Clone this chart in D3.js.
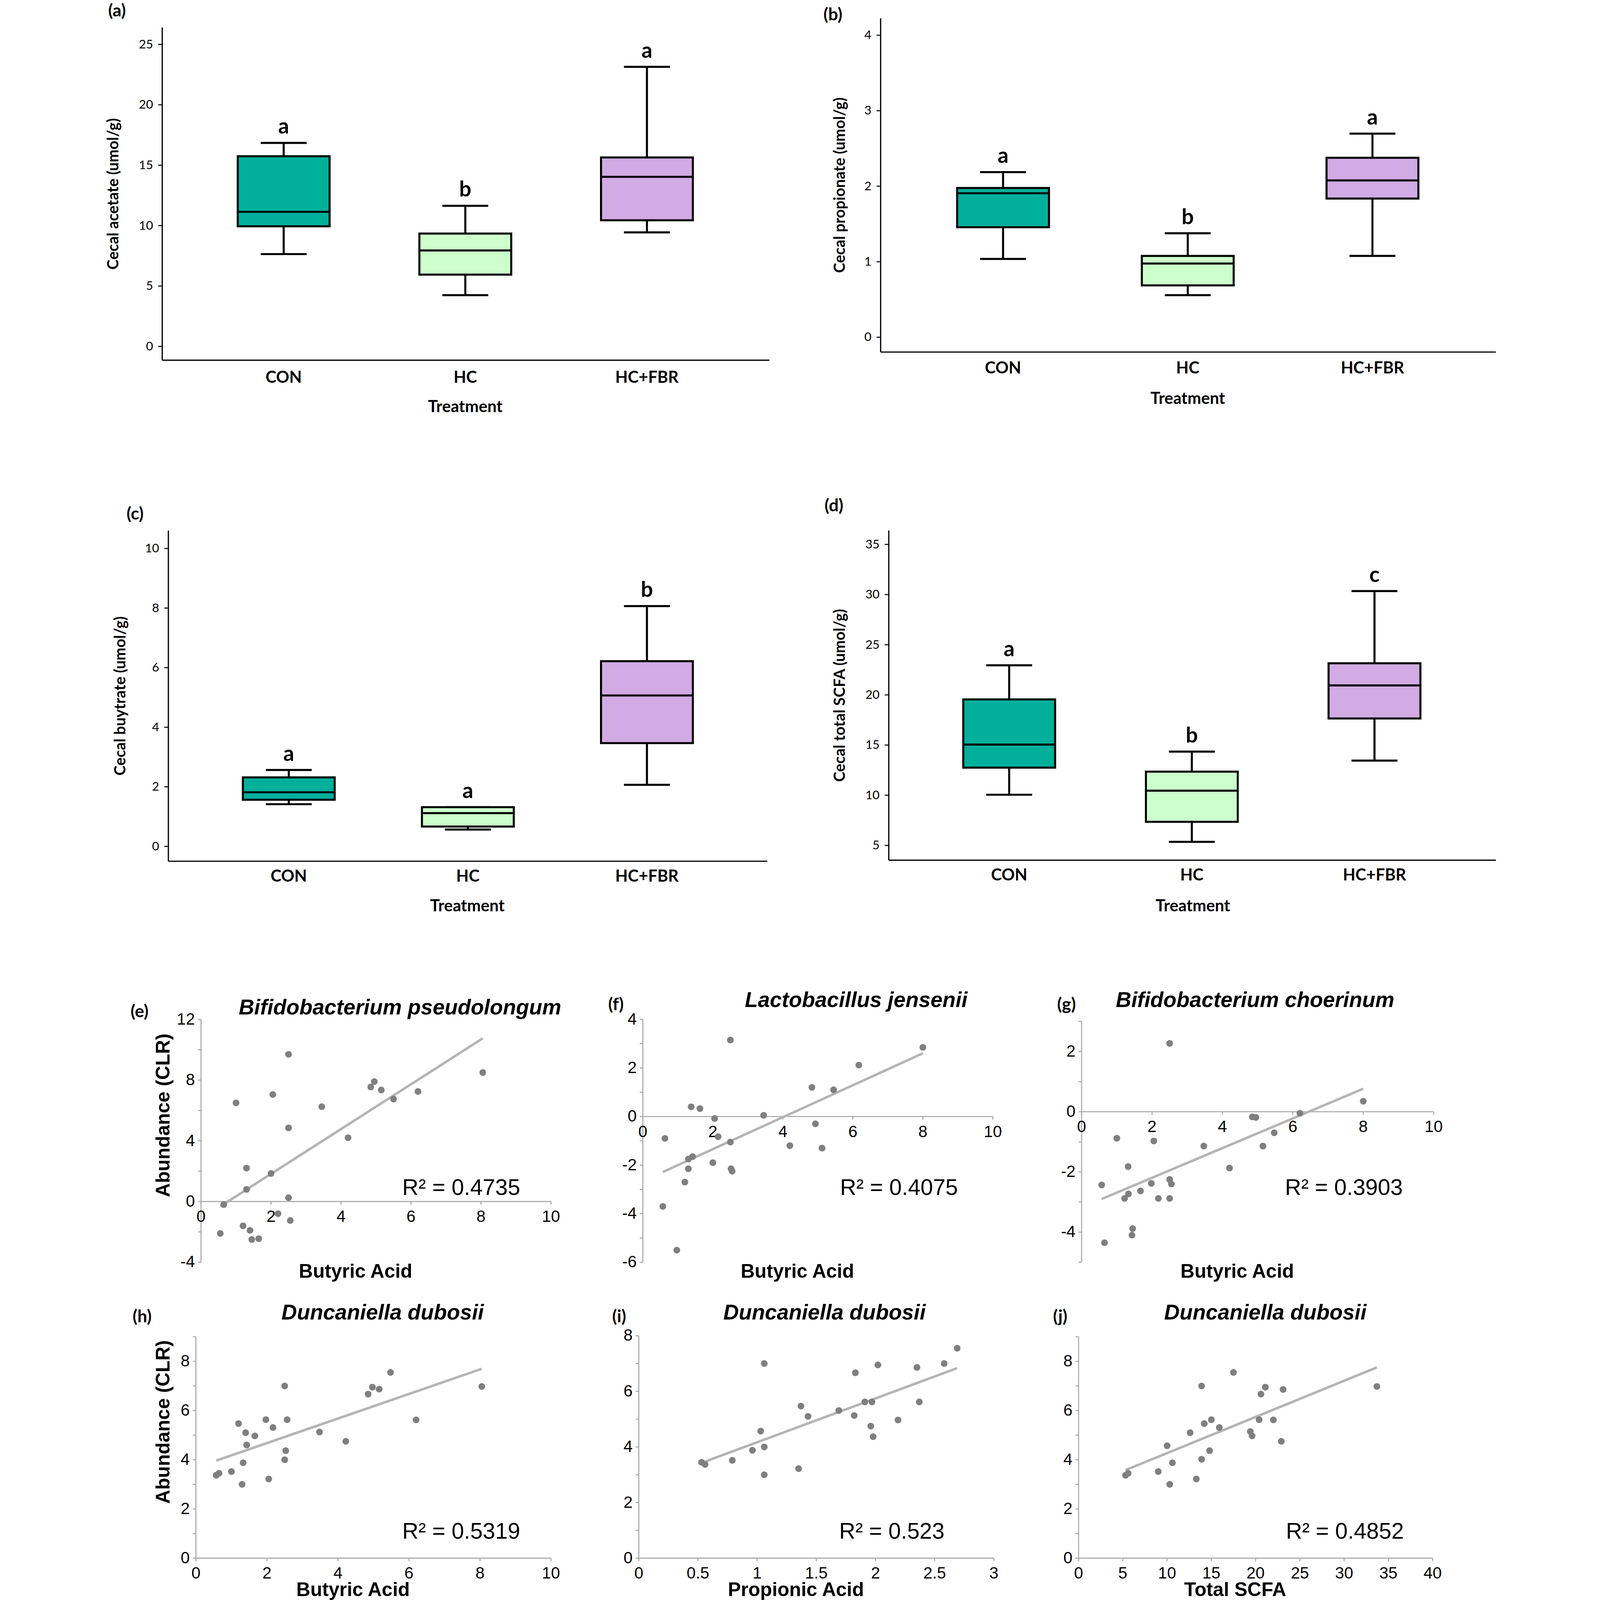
<!DOCTYPE html>
<html>
<head>
<meta charset="utf-8">
<script src="https://cdn.jsdelivr.net/npm/d3@7"></script>
<style>
  html, body { margin: 0; padding: 0; background: #fff; overflow: hidden; }
  svg { display: block; }
</style>
</head>
<body>
<div id="chart"></div>
<script>
// box plot data: [min, q1, median, q3, max] per group
var groups = ["CON", "HC", "HC+FBR"];
var groupColors = ["#00b09b", "#ccffcc", "#d2aae4"];
var acetate    = [[7.6, 9.9, 11.1, 15.7, 16.8], [4.2, 5.9, 7.9, 9.3, 11.6], [9.4, 10.4, 14.0, 15.6, 23.1]];
var propionate = [[1.03, 1.45, 1.9, 1.97, 2.18], [0.55, 0.68, 0.97, 1.07, 1.37], [1.07, 1.83, 2.07, 2.37, 2.69]];
var butyrate   = [[1.4, 1.55, 1.8, 2.3, 2.55], [0.55, 0.65, 1.1, 1.3, 1.3], [2.05, 3.45, 5.05, 6.2, 8.05]];
var totalScfa  = [[10.0, 12.7, 15.0, 19.5, 22.9], [5.3, 7.3, 10.4, 12.3, 14.3], [13.4, 17.6, 20.9, 23.1, 30.3]];
var letters = [["a", "b", "a"], ["a", "b", "a"], ["a", "a", "b"], ["a", "b", "c"]];
var acetateTicks = [0, 5, 10, 15, 20, 25];
var propionateTicks = [0, 1, 2, 3, 4];
var butyrateTicks = [0, 2, 4, 6, 8, 10];
var scfaTicks = [5, 10, 15, 20, 25, 30, 35];

// scatter data
var eX = [0.65, 0.55, 1.0, 1.3, 1.3, 1.2, 1.4, 1.45, 1.65, 2.0, 2.05, 2.2, 2.5, 2.5, 2.5, 2.55, 3.45, 4.2, 4.85, 4.95, 5.15, 5.5, 6.2, 8.05];
var eY = [-0.2, -2.1, 6.5, 2.2, 0.8, -1.6, -1.9, -2.5, -2.45, 1.85, 7.05, -0.8, 9.7, 4.85, 0.25, -1.25, 6.25, 4.2, 7.55, 7.9, 7.35, 6.75, 7.25, 8.5];
var fX = [0.63, 0.57, 0.97, 1.2, 1.3, 1.3, 1.42, 1.38, 1.63, 2.0, 2.05, 2.15, 2.5, 2.5, 2.52, 2.55, 3.45, 4.2, 4.83, 4.93, 5.12, 5.45, 6.17, 8.0];
var fY = [-0.9, -3.7, -5.5, -2.7, -1.75, -2.15, -1.65, 0.4, 0.33, -1.9, -0.08, -0.83, 3.15, -1.05, -2.15, -2.25, 0.05, -1.2, 1.2, -0.3, -1.3, 1.1, 2.12, 2.85];
var gX = [0.57, 0.65, 1.0, 1.22, 1.33, 1.32, 1.43, 1.45, 1.67, 1.98, 2.05, 2.18, 2.5, 2.5, 2.55, 2.5, 3.47, 4.2, 4.85, 4.95, 5.15, 5.47, 6.2, 8.0];
var gY = [-2.43, -4.35, -0.88, -2.88, -2.73, -1.82, -4.1, -3.88, -2.63, -2.38, -0.97, -2.88, 2.27, -2.25, -2.4, -2.88, -1.14, -1.87, -0.17, -0.19, -1.14, -0.7, -0.05, 0.35];
var hX = [0.57, 0.65, 1.0, 1.2, 1.3, 1.33, 1.4, 1.43, 1.66, 1.97, 2.05, 2.17, 2.5, 2.53, 2.5, 2.57, 3.48, 4.22, 4.85, 4.97, 5.16, 5.48, 6.2, 8.05];
var hY = [3.37, 3.45, 3.52, 5.47, 3.0, 3.88, 5.1, 4.6, 4.97, 5.63, 3.22, 5.31, 7.0, 4.37, 4.0, 5.63, 5.13, 4.75, 6.67, 6.95, 6.87, 7.55, 5.62, 6.98];
var iX = [0.53, 0.56, 0.79, 0.96, 1.03, 1.06, 1.06, 1.06, 1.35, 1.37, 1.43, 1.69, 1.82, 1.83, 1.91, 1.96, 1.97, 1.98, 2.02, 2.19, 2.35, 2.37, 2.58, 2.69];
var iY = [3.45, 3.37, 3.52, 3.88, 4.57, 4.0, 7.0, 3.0, 3.22, 5.47, 5.1, 5.31, 5.13, 6.67, 5.62, 4.75, 5.62, 4.37, 6.95, 4.97, 6.86, 5.62, 7.0, 7.55];
var jX = [5.3, 5.6, 9.0, 10.0, 10.3, 10.6, 12.6, 13.3, 13.9, 13.9, 14.2, 14.8, 15.0, 15.9, 17.5, 19.4, 19.6, 20.4, 20.6, 21.1, 22.0, 22.9, 23.1, 33.7];
var jY = [3.37, 3.45, 3.52, 4.57, 3.0, 3.88, 5.1, 3.22, 7.0, 4.02, 5.47, 4.37, 5.63, 5.31, 7.55, 5.15, 4.97, 5.63, 6.67, 6.95, 5.62, 4.75, 6.86, 6.98];
// fitted lines [slope, intercept] and printed R²
var trends = [[1.476, -1.13], [0.658, -2.66], [0.493, -3.18], [0.499, 3.68], [1.578, 2.59], [0.147, 2.80]];
var rSquared = ["0.4735", "0.4075", "0.3903", "0.5319", "0.523", "0.4852"];
var titles = ["Bifidobacterium pseudolongum", "Lactobacillus jensenii", "Bifidobacterium choerinum",
              "Duncaniella dubosii", "Duncaniella dubosii", "Duncaniella dubosii"];
var xLabels = ["Butyric Acid", "Butyric Acid", "Butyric Acid", "Butyric Acid", "Propionic Acid", "Total SCFA"];

// drawing is laid out on a 1364 x 1568 grid and scaled to the window
var svg = d3.select("#chart").append("svg")
  .attr("viewBox", "0 0 1364 1568")
  .attr("preserveAspectRatio", "xMidYMid meet")
  .style("width", "100vw").style("height", "100vh");
var root = svg.append("g");
var boxFont = "Lato, 'Open Sans', sans-serif";
var arial = "'Liberation Sans Narrow', 'Liberation Sans', Arial, sans-serif";

// ---------- box plots ----------
var boxPanels = [
  {tag: "(a)", tx: 4, ty: 16, data: acetate, ticks: acetateTicks, dom: [0, 25], rng: [339, 43], x0: 57, x1: 652, yTop: 27, yBot: 353,
   cx: [176, 354, 532], ylab: "Cecal acetate (umol/g)", ylx: 14, catY: 375, treatY: 404},
  {tag: "(b)", tx: 705, ty: 20, data: propionate, ticks: propionateTicks, dom: [0, 4], rng: [330, 34], x0: 761, x1: 1364, yTop: 18, yBot: 345,
   cx: [881, 1062, 1243], ylab: "Cecal propionate (umol/g)", ylx: 726, catY: 366, treatY: 396},
  {tag: "(c)", tx: 22, ty: 509, data: butyrate, ticks: butyrateTicks, dom: [0, 10], rng: [829, 537], x0: 63, x1: 650, yTop: 520, yBot: 844,
   cx: [181, 356, 532], ylab: "Cecal buytrate (umol/g)", ylx: 21, catY: 864, treatY: 893},
  {tag: "(d)", tx: 706, ty: 501, data: totalScfa, ticks: scfaTicks, dom: [5, 35], rng: [828, 533], x0: 769, x1: 1364, yTop: 520, yBot: 843,
   cx: [887, 1067, 1245], ylab: "Cecal total SCFA (umol/g)", ylx: 726, catY: 863, treatY: 893}
];

boxPanels.forEach(function(p, pi) {
  var g = root.append("g");
  var y = d3.scaleLinear().domain(p.dom).range(p.rng);
  var x = d3.scalePoint().domain(groups).range([p.cx[0], p.cx[2]]);
  g.append("text").attr("x", p.tx).attr("y", p.ty).text(p.tag)
    .style("font-family", boxFont).style("font-weight", "bold").style("font-size", "17px");
  g.append("line").attr("x1", p.x0).attr("x2", p.x0).attr("y1", p.yTop).attr("y2", p.yBot).attr("stroke", "#000").attr("stroke-width", 1.2);
  g.append("line").attr("x1", p.x0).attr("x2", p.x1).attr("y1", p.yBot).attr("y2", p.yBot).attr("stroke", "#000").attr("stroke-width", 1.2);
  var ax = g.append("g").attr("transform", "translate(" + p.x0 + ",0)")
    .call(d3.axisLeft(y).tickValues(p.ticks).tickSize(4).tickFormat(d3.format("d")));
  ax.select(".domain").remove();
  ax.selectAll("text").style("font-family", boxFont).style("font-size", "12px").attr("x", -9);
  g.append("text").attr("transform", "translate(" + p.ylx + "," + ((p.yTop + p.yBot) / 2) + ") rotate(-90)")
    .attr("text-anchor", "middle").text(p.ylab)
    .style("font-family", boxFont).style("font-weight", "bold").style("font-size", "15px");
  groups.forEach(function(name, gi) {
    var d = p.data[gi], cx = x(name), w = 90;
    g.append("line").attr("x1", cx).attr("x2", cx).attr("y1", y(d[0])).attr("y2", y(d[1])).attr("stroke", "#000").attr("stroke-width", 2);
    g.append("line").attr("x1", cx).attr("x2", cx).attr("y1", y(d[3])).attr("y2", y(d[4])).attr("stroke", "#000").attr("stroke-width", 2);
    g.append("line").attr("x1", cx - w / 4).attr("x2", cx + w / 4).attr("y1", y(d[0])).attr("y2", y(d[0])).attr("stroke", "#000").attr("stroke-width", 2);
    g.append("line").attr("x1", cx - w / 4).attr("x2", cx + w / 4).attr("y1", y(d[4])).attr("y2", y(d[4])).attr("stroke", "#000").attr("stroke-width", 2);
    g.append("rect").attr("x", cx - w / 2).attr("width", w).attr("y", y(d[3])).attr("height", y(d[1]) - y(d[3]))
      .attr("fill", groupColors[gi]).attr("stroke", "#000").attr("stroke-width", 2);
    g.append("line").attr("x1", cx - w / 2).attr("x2", cx + w / 2).attr("y1", y(d[2])).attr("y2", y(d[2])).attr("stroke", "#000").attr("stroke-width", 2);
    g.append("text").attr("x", cx).attr("y", y(d[4]) - 9).attr("text-anchor", "middle").text(letters[pi][gi])
      .style("font-family", boxFont).style("font-weight", "bold").style("font-size", "21px");
    g.append("text").attr("x", cx).attr("y", p.catY).attr("text-anchor", "middle").text(name)
      .style("font-family", boxFont).style("font-weight", "bold").style("font-size", "16px");
  });
  g.append("text").attr("x", p.cx[1]).attr("y", p.treatY).attr("text-anchor", "middle").text("Treatment")
    .style("font-family", boxFont).style("font-weight", "bold").style("font-size", "16px");
});

// ---------- scatter plots ----------
var scatterPanels = [
  {tag: "(e)", tx: 26, ty: 997, xs: eX, ys: eY, xd: [0, 10], xr: [95, 438], xt: [0, 2, 4, 6, 8, 10], yd: [-4, 12], yr: [1237, 999], ytl: [-4, 0, 4, 8, 12], ytm: d3.range(-4, 13, 2),
   titleX: 290, ylab: true, rx: 350, ry: 1171, xlY: 1252},
  {tag: "(f)", tx: 494, ty: 990, xs: fX, ys: fY, xd: [0, 10], xr: [528, 871], xt: [0, 2, 4, 6, 8, 10], yd: [-6, 4], yr: [1237, 999], ytl: [-6, -4, -2, 0, 2, 4], ytm: d3.range(-6, 5, 1),
   titleX: 737, ylab: false, rx: 779, ry: 1171, xlY: 1252},
  {tag: "(g)", tx: 934, ty: 990, xs: gX, ys: gY, xd: [0, 10], xr: [958, 1303], xt: [0, 2, 4, 6, 8, 10], yd: [-5, 3], yr: [1237, 1001], ytl: [-4, -2, 0, 2], ytm: d3.range(-5, 4, 1),
   titleX: 1128, ylab: false, rx: 1215, ry: 1171, xlY: 1252},
  {tag: "(h)", tx: 28, ty: 1296, xs: hX, ys: hY, xd: [0, 10], xr: [90, 438], xt: [0, 2, 4, 6, 8, 10], yd: [0, 9], yr: [1527, 1310], ytl: [0, 2, 4, 6, 8], ytm: d3.range(0, 10, 1),
   titleX: 273, ylab: true, rx: 350, ry: 1508, xlY: 1564},
  {tag: "(i)", tx: 498, ty: 1296, xs: iX, ys: iY, xd: [0, 3], xr: [524, 872], xt: [0, 0.5, 1, 1.5, 2, 2.5, 3], yd: [0, 8], yr: [1527, 1309], ytl: [0, 2, 4, 6, 8], ytm: d3.range(0, 9, 1),
   titleX: 706, ylab: false, rx: 772, ry: 1508, xlY: 1564},
  {tag: "(j)", tx: 930, ty: 1296, xs: jX, ys: jY, xd: [0, 40], xr: [955, 1302], xt: d3.range(0, 41, 5), yd: [0, 9], yr: [1527, 1310], ytl: [0, 2, 4, 6, 8], ytm: d3.range(0, 10, 1),
   titleX: 1138, ylab: false, rx: 1216, ry: 1508, xlY: 1564}
];

scatterPanels.forEach(function(p, pi) {
  var g = root.append("g");
  var x = d3.scaleLinear().domain(p.xd).range(p.xr);
  var y = d3.scaleLinear().domain(p.yd).range(p.yr);
  var axisColor = "#a6a6a6";
  var y0 = y(Math.max(0, p.yd[0]));
  g.append("text").attr("x", p.tx).attr("y", p.ty).text(p.tag)
    .style("font-family", boxFont).style("font-weight", "bold").style("font-size", "17px");
  g.append("text").attr("x", p.titleX).attr("y", p.ty - 3).attr("text-anchor", "middle").text(titles[pi])
    .style("font-family", "'Liberation Sans', Arial, sans-serif").style("font-weight", "bold").style("font-style", "italic").style("font-size", "21px");
  // y axis
  g.append("line").attr("x1", p.xr[0]).attr("x2", p.xr[0]).attr("y1", p.yr[0]).attr("y2", p.yr[1]).attr("stroke", axisColor).attr("stroke-width", 1);
  g.selectAll(".ytm").data(p.ytm).enter().append("line")
    .attr("x1", p.xr[0] - 3).attr("x2", p.xr[0]).attr("y1", function(d) { return y(d); }).attr("y2", function(d) { return y(d); })
    .attr("stroke", axisColor).attr("stroke-width", 1);
  g.selectAll(".ytl").data(p.ytl).enter().append("text")
    .attr("x", p.xr[0] - 6).attr("y", function(d) { return y(d) + 5; }).attr("text-anchor", "end").text(function(d) { return d; })
    .style("font-family", arial).style("font-size", "16px");
  // x axis at y = 0
  g.append("line").attr("x1", p.xr[0]).attr("x2", p.xr[1]).attr("y1", y0).attr("y2", y0).attr("stroke", axisColor).attr("stroke-width", 1);
  g.selectAll(".xtm").data(p.xt).enter().append("line")
    .attr("x1", function(d) { return x(d); }).attr("x2", function(d) { return x(d); }).attr("y1", y0).attr("y2", y0 + 3)
    .attr("stroke", axisColor).attr("stroke-width", 1);
  g.selectAll(".xtl").data(p.xt).enter().append("text")
    .attr("x", function(d) { return x(d); }).attr("y", y0 + 20).attr("text-anchor", "middle").text(function(d) { return d; })
    .style("font-family", arial).style("font-size", "16px");
  // trend line
  var xmin = d3.min(p.xs), xmax = d3.max(p.xs), t = trends[pi];
  g.append("line").attr("x1", x(xmin)).attr("x2", x(xmax))
    .attr("y1", y(t[0] * xmin + t[1])).attr("y2", y(t[0] * xmax + t[1]))
    .attr("stroke", "#b4b4b4").attr("stroke-width", 2.4);
  g.selectAll(".pt").data(d3.range(p.xs.length)).enter().append("circle")
    .attr("cx", function(i) { return x(p.xs[i]); }).attr("cy", function(i) { return y(p.ys[i]); })
    .attr("r", 3.3).attr("fill", "#7f7f7f");
  g.append("text").attr("x", p.rx).attr("y", p.ry).attr("text-anchor", "middle").text("R² = " + rSquared[pi])
    .style("font-family", arial).style("font-size", "22px");
  g.append("text").attr("x", (p.xr[0] + p.xr[1]) / 2 - 20).attr("y", p.xlY).attr("text-anchor", "middle").text(xLabels[pi])
    .style("font-family", arial).style("font-weight", "bold").style("font-size", "19px");
  if (p.ylab) {
    g.append("text").attr("transform", "translate(64," + ((p.yr[0] + p.yr[1]) / 2 - 25) + ") rotate(-90)")
      .attr("text-anchor", "middle").text("Abundance (CLR)")
      .style("font-family", "'Liberation Sans', Arial, sans-serif").style("font-weight", "bold").style("font-size", "19px");
  }
});
</script>
</body>
</html>
